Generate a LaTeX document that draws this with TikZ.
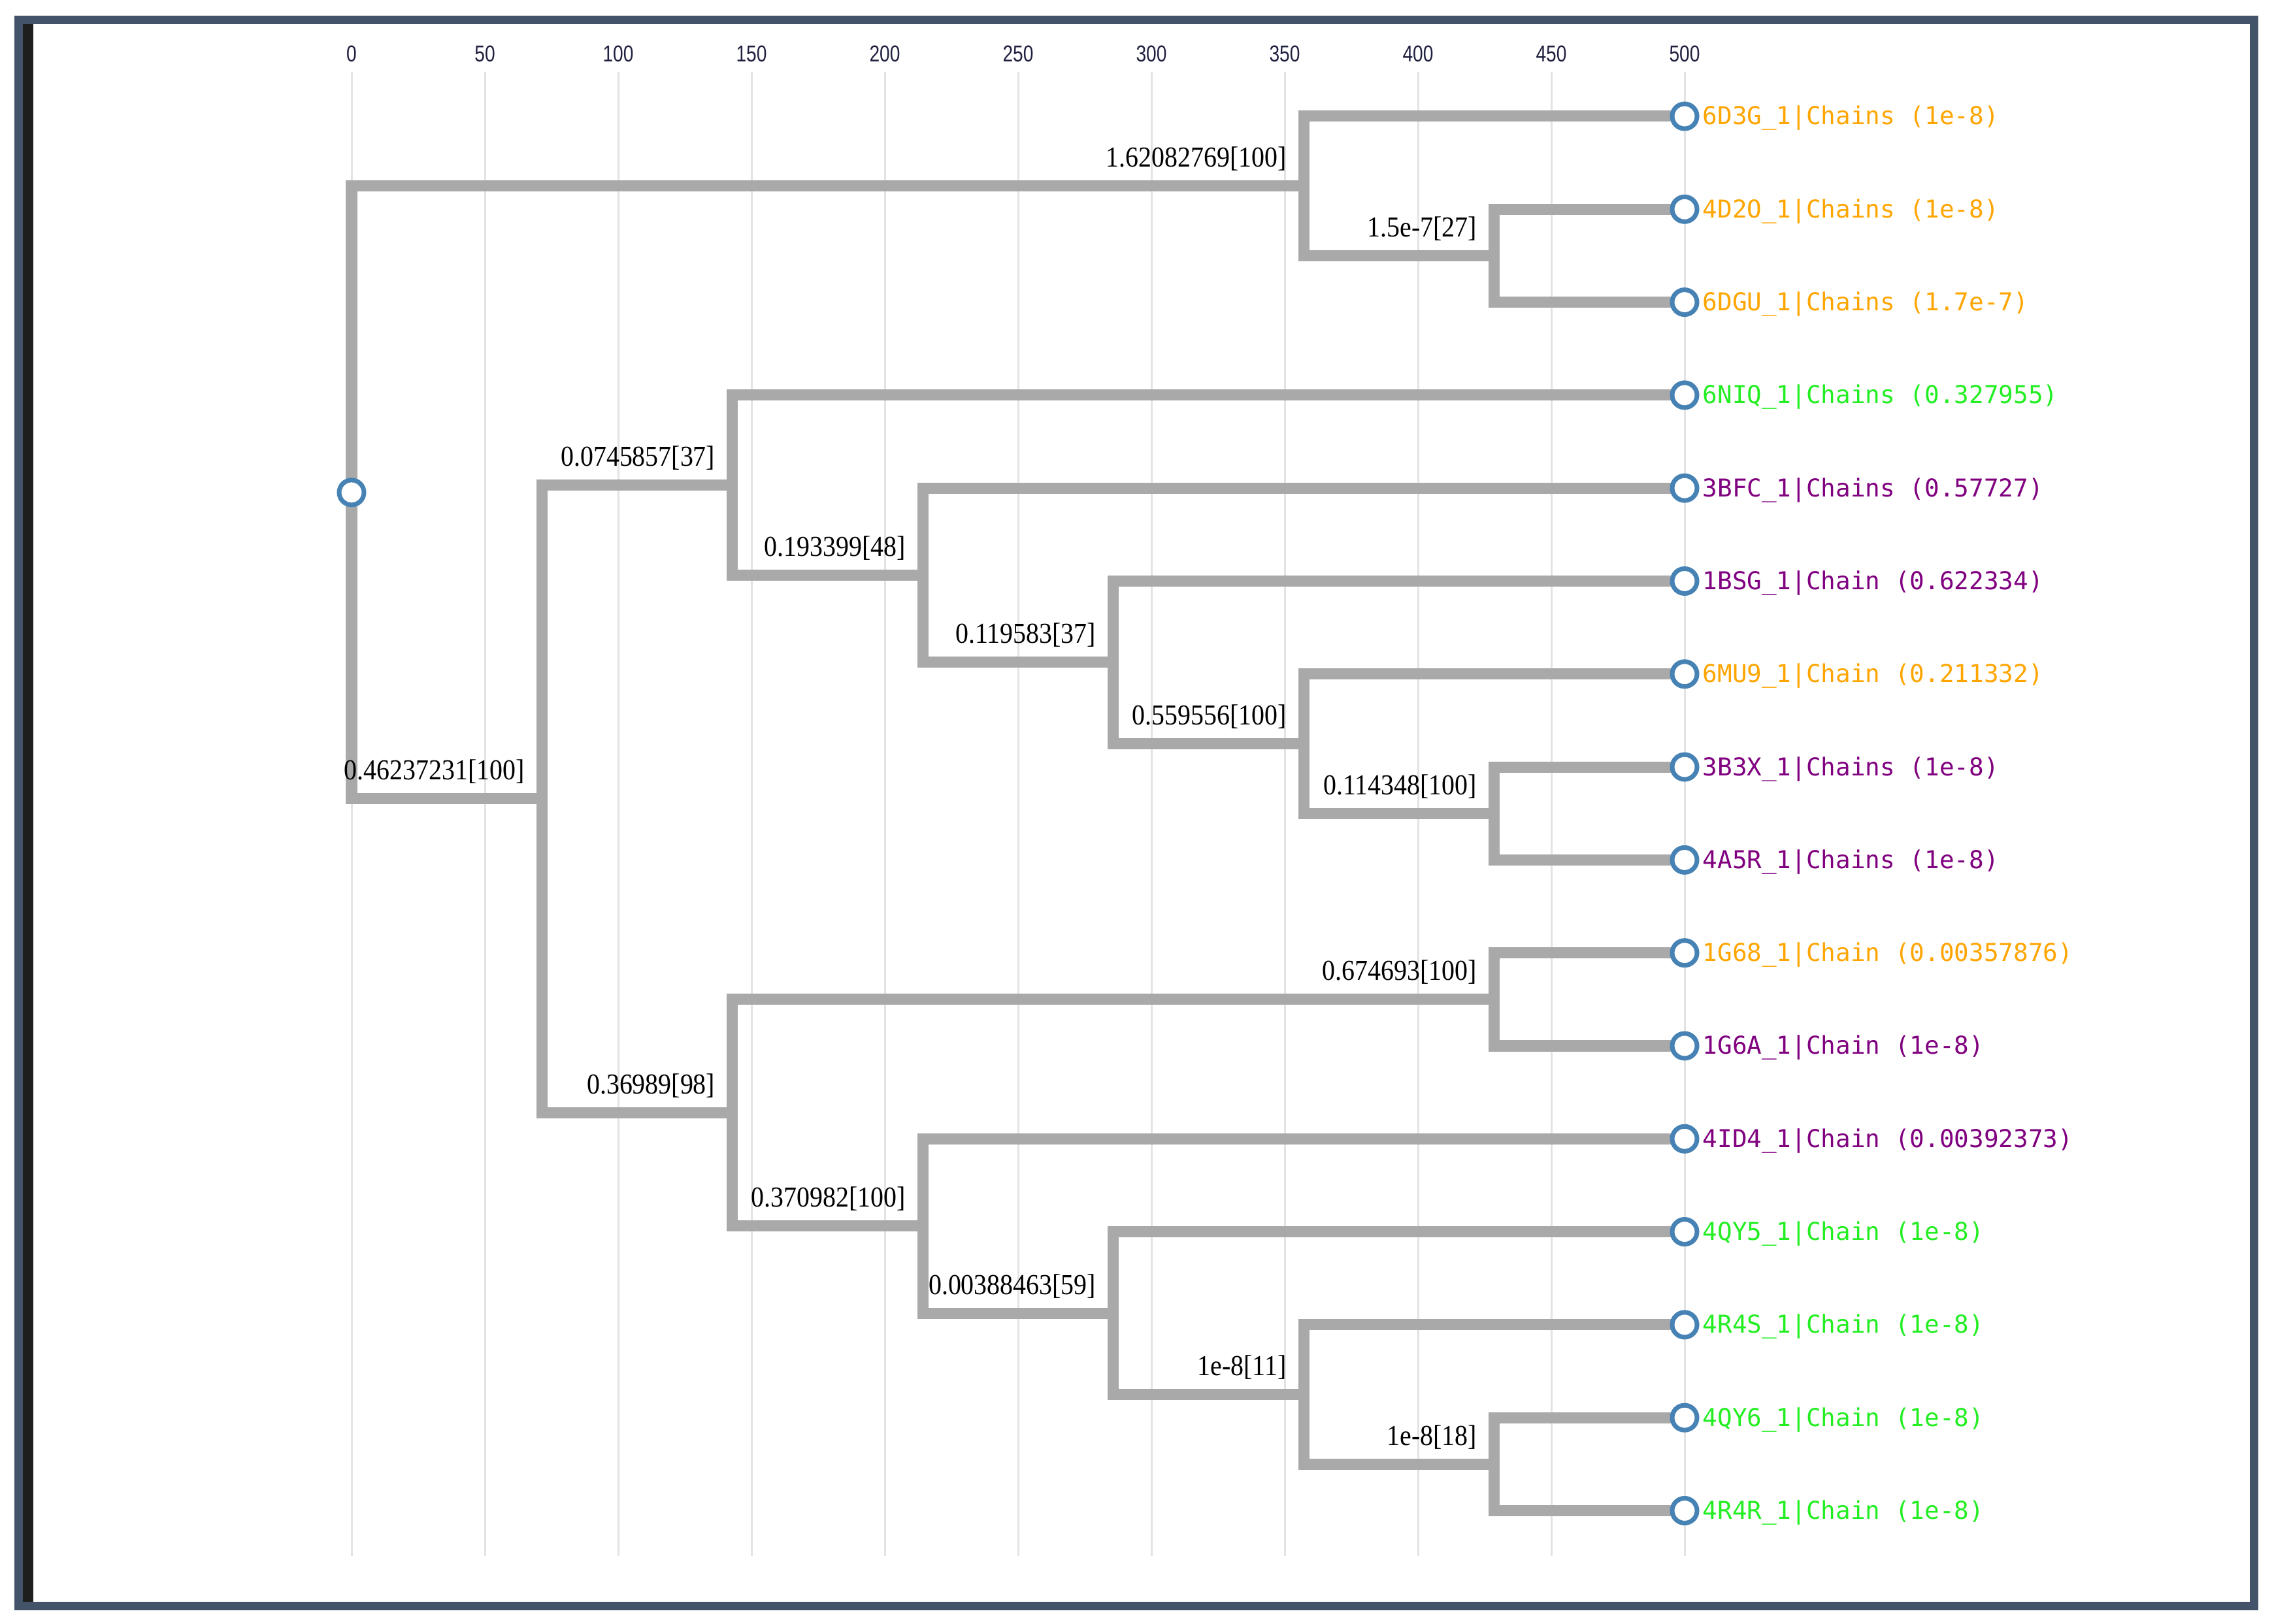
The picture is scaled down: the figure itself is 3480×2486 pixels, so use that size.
\documentclass[tikz,border=0pt]{standalone}
\usepackage{fontspec}
\newfontfamily\labfont[FakeStretch=0.9]{Liberation Serif}
\newfontfamily\leaffont{DejaVu Sans Mono}
\newfontfamily\tickfont[FakeStretch=0.8]{Liberation Sans}
\definecolor{framec}{HTML}{43546A}
\definecolor{stripec}{HTML}{1E1E1E}
\definecolor{linkc}{HTML}{A9A9A9}
\definecolor{gridc}{HTML}{E3E3E3}
\definecolor{steelc}{HTML}{4682B4}
\definecolor{orgc}{HTML}{FFA500}
\definecolor{grnc}{HTML}{22EE22}
\definecolor{purc}{HTML}{800080}
\definecolor{tickc}{HTML}{202040}
\begin{document}
\begin{tikzpicture}[x=0.01cm,y=-0.01cm,
  link/.style={draw=linkc,line width=0.17cm,line join=miter},
  gridline/.style={draw=gridc,line width=0.03cm},
  leafdot/.style={circle,draw=steelc,fill=white,line width=0.07cm,minimum size=0.38cm,inner sep=0pt},
  ticklab/.style={font=\tickfont\fontsize{10pt}{12pt}\selectfont,text=tickc,inner sep=0pt,anchor=base},
  brlab/.style={font=\labfont\fontsize{12.6pt}{14pt}\selectfont,text=black,inner sep=0pt,anchor=base east},
  leaflab/.style={font=\leaffont\fontsize{10.7pt}{12pt}\selectfont,inner sep=0pt,anchor=base west}]
\fill[white] (0,0) rectangle (3480,2486);
\useasboundingbox (0,0) rectangle (3480,2486);

% axis grid and ticks
\foreach \v [count=\k] in {0,50,...,500} {
  \draw[gridline] ({538+4.08*\v},110) -- ({538+4.08*\v},2382);
  \node[ticklab] (t\k) at ({538+4.08*\v},95) {\v};
}

% internal nodes
\coordinate (nR) at (538,753.9);
\coordinate (nC) at (829.4,1223.0);
\coordinate (nD) at (1120.9,742.8);
\coordinate (nE) at (1120.9,1703.3);
\coordinate (nF) at (1412.3,880.6);
\coordinate (nK) at (1412.3,1876.7);
\coordinate (nG) at (1703.7,1014.0);
\coordinate (nL) at (1703.7,2010.1);
\coordinate (nB) at (1995.1,284.7);
\coordinate (nH) at (1995.1,1138.5);
\coordinate (nM) at (1995.1,2134.6);
\coordinate (nA) at (2286.6,391.45);
\coordinate (nI) at (2286.6,1245.25);
\coordinate (nJ) at (2286.6,1529.85);
\coordinate (nN) at (2286.6,2241.35);
\foreach \i in {0,...,15} \coordinate (p\i) at (2578,{178+142.3*\i});

% links
\foreach \p/\c in {nR/nB,nR/nC,nB/p0,nB/nA,nA/p1,nA/p2,nC/nD,nC/nE,nD/p3,nD/nF,
  nF/p4,nF/nG,nG/p5,nG/nH,nH/p6,nH/nI,nI/p7,nI/p8,nE/nJ,nE/nK,nJ/p9,nJ/p10,
  nK/p11,nK/nL,nL/p12,nL/nM,nM/p13,nM/nN,nN/p14,nN/p15}
  \draw[link] (\p) |- (\c);

% branch labels
\foreach \n/\t in {nB/{1.62082769[100]},nA/{1.5e-7[27]},nC/{0.46237231[100]},
  nD/{0.0745857[37]},nF/{0.193399[48]},nG/{0.119583[37]},nH/{0.559556[100]},
  nI/{0.114348[100]},nE/{0.36989[98]},nJ/{0.674693[100]},nK/{0.370982[100]},
  nL/{0.00388463[59]},nM/{1e-8[11]},nN/{1e-8[18]}}
  \node[brlab] (lab\n) at ([shift={(-26,-29)}]\n) {\t};

% root and leaves
\node[leafdot] (root) at (nR) {};
\foreach \i/\t/\col in {
  0/{6D3G\_1|Chains (1e-8)}/orgc,
  1/{4D2O\_1|Chains (1e-8)}/orgc,
  2/{6DGU\_1|Chains (1.7e-7)}/orgc,
  3/{6NIQ\_1|Chains (0.327955)}/grnc,
  4/{3BFC\_1|Chains (0.57727)}/purc,
  5/{1BSG\_1|Chain (0.622334)}/purc,
  6/{6MU9\_1|Chain (0.211332)}/orgc,
  7/{3B3X\_1|Chains (1e-8)}/purc,
  8/{4A5R\_1|Chains (1e-8)}/purc,
  9/{1G68\_1|Chain (0.00357876)}/orgc,
  10/{1G6A\_1|Chain (1e-8)}/purc,
  11/{4ID4\_1|Chain (0.00392373)}/purc,
  12/{4QY5\_1|Chain (1e-8)}/grnc,
  13/{4R4S\_1|Chain (1e-8)}/grnc,
  14/{4QY6\_1|Chain (1e-8)}/grnc,
  15/{4R4R\_1|Chain (1e-8)}/grnc} {
  \node[leafdot] (l\i) at (p\i) {};
  \node[leaflab,text=\col] (ll\i) at ([shift={(27,13)}]p\i) {\t};
}

% frame
\fill[stripec] (35,37) rectangle (51,2452);
\draw[framec,line width=0.13cm] (28.5,30.5) rectangle (3449.5,2458.5);
\end{tikzpicture}
\end{document}
